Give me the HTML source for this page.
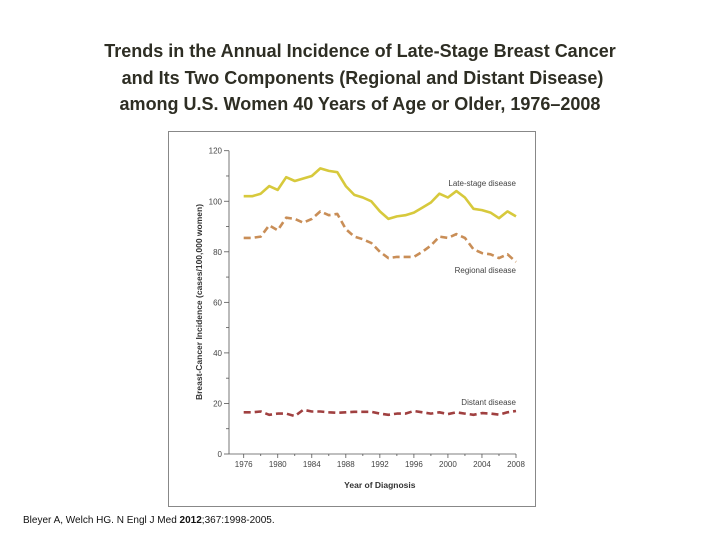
<!DOCTYPE html>
<html><head><meta charset="utf-8"><style>
body{margin:0;width:720px;height:540px;background:#fff;overflow:hidden;font-family:"Liberation Sans",sans-serif}
.t{position:absolute;left:0;width:720px;text-align:center;font-weight:bold;font-size:18px;color:#2e2e24;line-height:26.5px;top:38px}
.f{position:absolute;left:23px;top:515px;font-size:10px;color:#111}
</style></head><body>
<div class="t">Trends in the Annual Incidence of Late-Stage Breast Cancer<br>&nbsp;and Its Two Components (Regional and Distant Disease)<br>among U.S. Women 40 Years of Age or Older, 1976–2008</div>
<svg id="c" width="720" height="540" style="position:absolute;left:0;top:0"></svg>
<div class="f">Bleyer A, Welch HG. N Engl J Med <b>2012</b>;367:1998-2005.</div>
<script>
const years=[1976,1977,1978,1979,1980,1981,1982,1983,1984,1985,1986,1987,1988,1989,1990,1991,1992,1993,1994,1995,1996,1997,1998,1999,2000,2001,2002,2003,2004,2005,2006,2007,2008];
const lateStage=[102,102,103,106,104.5,109.5,108,109,110,113,112,111.5,106,102.5,101.5,100,96,93,94,94.5,95.5,97.5,99.5,103,101.5,104,101.5,97,96.5,95.5,93.3,96,94];
const regional=[85.5,85.5,86,90.5,88.5,93.5,93,91.5,93,96,94.5,95,89,86,85,83.5,80,77.5,78,78,78,80,82.5,86,85.5,87,85.5,81,79.5,79,77.5,79,76];
const distant=[16.5,16.5,16.8,15.5,16,16,15,17.5,16.8,16.8,16.5,16.3,16.5,16.7,16.7,16.7,16,15.5,16,16,17,16.5,16,16.5,15.8,16.5,16,15.5,16.2,16,15.6,16.5,17];
const yTicks=[0,20,40,60,80,100,120];
const xTicks=[1976,1980,1984,1988,1992,1996,2000,2004,2008];
const svg=document.getElementById('c');const NS='http://www.w3.org/2000/svg';
const X=v=>243.7+(v-1976)*(516-243.7)/32;
const Y=v=>454-v*(454-150.7)/120;
function mk(t,a,p){const e=document.createElementNS(NS,t);for(const k in a)e.setAttribute(k,a[k]);(p||svg).appendChild(e);return e;}
let e=mk('rect',{x:168.5,y:131.5,width:367,height:375,fill:'none',stroke:'#888','stroke-width':1});


e=mk('line',{x1:229,y1:Y(120),x2:229,y2:454,stroke:'#555','stroke-width':0.8});


e=mk('line',{x1:229,y1:454,x2:X(2008),y2:454,stroke:'#555','stroke-width':0.8});


for(let v=0;v<=120;v+=10){mk('line',{x1:229,y1:Y(v),x2:v%20?226:224,y2:Y(v),stroke:'#555','stroke-width':0.8});}
yTicks.forEach(v=>{e=mk('text',{x:222,y:Y(v)+3,'font-size':8,'text-anchor':'end',fill:'#444'});e.textContent=v;

});
for(let y=1976;y<=2008;y+=2){mk('line',{x1:X(y),y1:454,x2:X(y),y2:y%4?456:458,stroke:'#555','stroke-width':0.8});}
xTicks.forEach(v=>{e=mk('text',{x:X(v),y:467,'font-size':8,'text-anchor':'middle',fill:'#444'});e.textContent=v;

});
e=mk('text',{x:X(1992),y:488,'font-size':8.5,'font-weight':'bold','text-anchor':'middle',fill:'#333'});e.textContent='Year of Diagnosis';


e=mk('text',{x:0,y:0,'font-size':8.5,'font-weight':'bold','text-anchor':'middle',fill:'#333',transform:'translate(202,302) rotate(-90)'});e.textContent='Breast-Cancer Incidence (cases/100,000 women)';


function series(d,col,dash,name){const p=d.map((v,i)=>(i?'L':'M')+X(years[i]).toFixed(1)+','+Y(v).toFixed(1)).join('');
const a={d:p,fill:'none',stroke:col,'stroke-width':2.6,'stroke-linejoin':'round'};if(dash)a['stroke-dasharray']=dash;
const el=mk('path',a);

}
series(lateStage,'#d7c93c',null,'late-stage-line');
series(regional,'#c98e57','7,4','regional-line');
series(distant,'#a04040','7,4','distant-line');
[['Late-stage disease',516,186,'label-late-stage'],['Regional disease',516,273,'label-regional'],['Distant disease',516,405,'label-distant']].forEach(l=>{
e=mk('text',{x:l[1],y:l[2],'font-size':8,'text-anchor':'end',fill:'#444'});e.textContent=l[0];

});
</script>
</body></html>
